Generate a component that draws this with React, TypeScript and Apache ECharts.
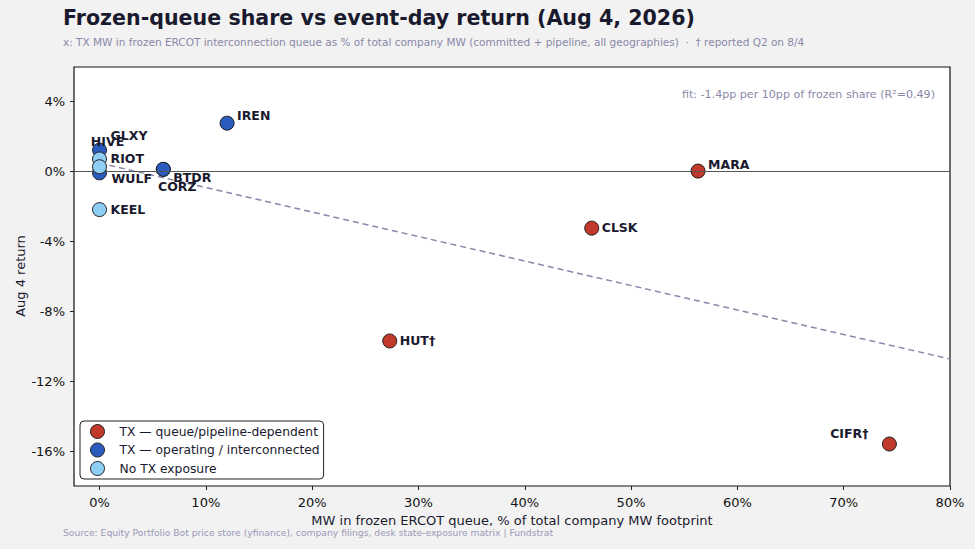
import React, { useEffect, useRef } from "react";
import * as echarts from "echarts";

// ---- data ----
const QUEUE_TICKERS = ["MARA", "CLSK", "HUT†", "CIFR†"];
const QUEUE_X = [56.3, 46.3, 27.3, 74.3];
const QUEUE_Y = [0.0, -3.26, -9.71, -15.6];

const OPER_TICKERS = ["IREN", "GLXY", "WULF", "BTDR", "CORZ"];
const OPER_X = [12.0, 0, 0, 6.0, 6.0];
const OPER_Y = [2.74, 1.2, -0.1, 0.1, 0.1];

const NOTX_TICKERS = ["RIOT", "HIVE", "KEEL"];
const NOTX_X = [0, 0, 0];
const NOTX_Y = [0.69, 0.25, -2.2];

const FIT_X = [0, 80];
const FIT_Y = [0.46, -10.74];

const X_TICKS = [0, 10, 20, 30, 40, 50, 60, 70, 80];
const Y_TICKS = [-16, -12, -8, -4, 0, 4];

const SERIES_NAMES = [
  "TX — queue/pipeline-dependent",
  "TX — operating / interconnected",
  "No TX exposure",
];

// ---- label placement (styling) ----
const LABEL_STYLE: Record<string, { dx: number; dy: number; align: string }> = {
  MARA: { dx: 10, dy: -7, align: "left" },
  CLSK: { dx: 10, dy: -1, align: "left" },
  "HUT†": { dx: 10, dy: 0, align: "left" },
  "CIFR†": { dx: -21, dy: -11, align: "right" },
  IREN: { dx: 10, dy: -8, align: "left" },
  GLXY: { dx: 11, dy: -15, align: "left" },
  WULF: { dx: 12, dy: 6, align: "left" },
  BTDR: { dx: 10, dy: 8, align: "left" },
  CORZ: { dx: 14, dy: 17, align: "center" },
  RIOT: { dx: 11, dy: -1, align: "left" },
  HIVE: { dx: 8, dy: -25, align: "center" },
  KEEL: { dx: 11, dy: 0, align: "left" },
};

const FONT = "DejaVu Sans";
const INK = "#1a1a2e";
const MUTED = "#8a88a8";

function buildPoints(tickers: string[], xs: number[], ys: number[]) {
  return tickers.map((t, i) => {
    const s = LABEL_STYLE[t];
    return {
      name: t,
      value: [xs[i], ys[i]],
      label: {
        show: true,
        formatter: t,
        position: "inside",
        align: s.align,
        verticalAlign: "middle",
        offset: [s.dx, s.dy],
      },
    };
  });
}

export default function App() {
  const ref = useRef<HTMLDivElement>(null);

  useEffect(() => {
    if (!ref.current) return;
    const chart = echarts.init(ref.current, undefined, { renderer: "svg" });
    const markerStyle = (color: string) => ({
      color,
      borderColor: "#222222",
      borderWidth: 1,
      opacity: 1,
    });
    const labelBase = {
      fontFamily: FONT,
      fontWeight: "bold",
      fontSize: 12.5,
      color: INK,
    };
    chart.setOption({
      animation: false,
      backgroundColor: "#f2f2f2",
      textStyle: { fontFamily: FONT },
      title: [
        {
          text: "Frozen-queue share vs event-day return (Aug 4, 2026)",
          left: 63,
          top: 7,
          padding: 0,
          textStyle: { fontFamily: FONT, fontSize: 20.6, fontWeight: "bold", color: INK },
        },
        {
          text: "x: TX MW in frozen ERCOT interconnection queue as % of total company MW (committed + pipeline, all geographies)  ·  † reported Q2 on 8/4",
          left: 63,
          top: 36,
          padding: 0,
          textStyle: { fontFamily: FONT, fontSize: 10.5, fontWeight: "normal", color: MUTED },
        },
        {
          text: "Source: Equity Portfolio Bot price store (yfinance), company filings, desk state-exposure matrix | Fundstrat",
          left: 63,
          top: 528,
          padding: 0,
          textStyle: { fontFamily: FONT, fontSize: 9.2, fontWeight: "normal", color: "#9a98b8" },
        },
      ],
      grid: {
        left: 74,
        right: 25,
        top: 67,
        bottom: 63,
        outerBoundsMode: "none",
        containLabel: false,
        show: true,
        backgroundColor: "#ffffff",
        borderColor: "#111111",
        borderWidth: 1.2,
      },
      legend: {
        orient: "vertical",
        left: 80,
        top: 421,
        data: SERIES_NAMES,
        icon: "circle",
        itemWidth: 14,
        itemHeight: 14,
        itemGap: 3.5,
        padding: [3, 4, 3, 10],
        backgroundColor: "#ffffff",
        borderColor: "#222222",
        borderWidth: 1,
        borderRadius: 4,
        textStyle: { fontFamily: FONT, fontSize: 12.3, color: INK, padding: [0, 0, 0, 10] },
        itemStyle: { borderColor: "#222222", borderWidth: 1 },
      },
      xAxis: {
        type: "value",
        min: -2.4,
        max: 80,
        name: "MW in frozen ERCOT queue, % of total company MW footprint",
        nameLocation: "middle",
        nameGap: 23,
        nameTextStyle: { fontFamily: FONT, fontSize: 13, color: INK },
        axisLine: { show: false, onZero: false },
        splitLine: { show: false },
        axisTick: {
          show: true,
          length: 4,
          lineStyle: { color: "#222" },
          customValues: X_TICKS,
        },
        axisLabel: {
          fontFamily: FONT,
          fontSize: 13,
          color: "#111",
          margin: 10,
          customValues: X_TICKS,
          formatter: (v: number) => `${Math.round(v)}%`,
        },
      },
      yAxis: {
        type: "value",
        min: -18,
        max: 5.95,
        axisLine: { show: false, onZero: false },
        splitLine: { show: false },
        axisTick: {
          show: true,
          length: 4,
          lineStyle: { color: "#222" },
          customValues: Y_TICKS,
        },
        axisLabel: {
          fontFamily: FONT,
          fontSize: 13,
          color: "#111",
          margin: 9,
          customValues: Y_TICKS,
          formatter: (v: number) => `${Math.round(v)}%`,
        },
      },
      graphic: [
        {
          type: "text",
          right: 40,
          top: 89,
          style: {
            text: "fit: -1.4pp per 10pp of frozen share (R²=0.49)",
            fontFamily: FONT,
            fontSize: 11.1,
            fill: MUTED,
          },
        },
        {
          type: "text",
          x: 20,
          y: 276,
          rotation: Math.PI / 2,
          style: {
            text: "Aug 4 return",
            fontFamily: FONT,
            fontSize: 13,
            fill: INK,
            align: "center",
            verticalAlign: "middle",
          },
        },
      ],
      series: [
        {
          type: "line",
          name: "fit",
          data: FIT_X.map((x, i) => [x, FIT_Y[i]]),
          showSymbol: false,
          symbol: "none",
          lineStyle: { color: "#8a87a8", width: 1.5, type: [6, 4] },
          silent: true,
          z: 1,
          markLine: {
            silent: true,
            symbol: "none",
            label: { show: false },
            lineStyle: { color: "#555555", width: 1.2, type: "solid" },
            data: [{ yAxis: 0 }],
          },
        },
        {
          type: "scatter",
          name: SERIES_NAMES[0],
          symbolSize: 14,
          itemStyle: markerStyle("#c0392b"),
          label: labelBase,
          data: buildPoints(QUEUE_TICKERS, QUEUE_X, QUEUE_Y),
          z: 3,
        },
        {
          type: "scatter",
          name: SERIES_NAMES[1],
          symbolSize: 14,
          itemStyle: markerStyle("#2a5bbd"),
          label: labelBase,
          data: buildPoints(OPER_TICKERS, OPER_X, OPER_Y),
          z: 4,
        },
        {
          type: "scatter",
          name: SERIES_NAMES[2],
          symbolSize: 14,
          itemStyle: markerStyle("#8ecdf4"),
          label: labelBase,
          data: buildPoints(NOTX_TICKERS, NOTX_X, NOTX_Y),
          z: 5,
        },
      ],
    });
    return () => chart.dispose();
  }, []);

  return (
    <div
      ref={ref}
      style={{ position: "fixed", left: 0, top: 0, width: 975, height: 549 }}
    />
  );
}
